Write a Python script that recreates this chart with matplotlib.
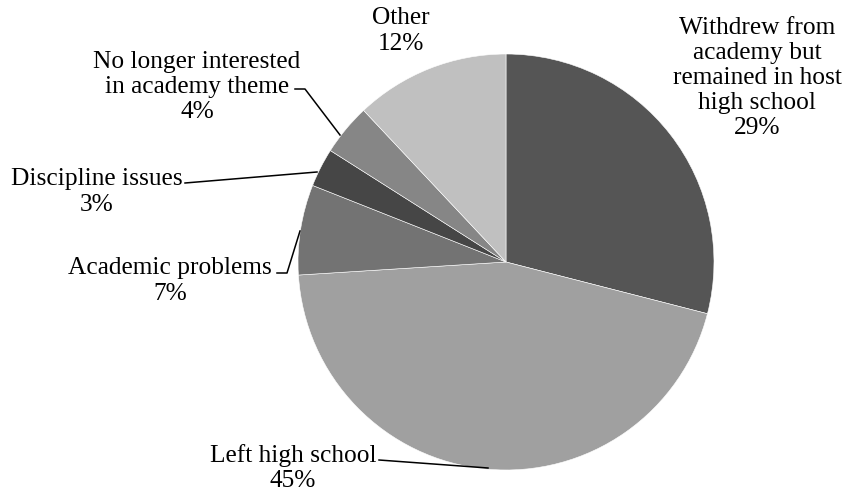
import matplotlib
matplotlib.use("Agg")
import matplotlib.pyplot as plt

categories = ["Withdrew from\nacademy but\nremained in host\nhigh school",
              "Left high school", "Academic problems", "Discipline issues",
              "No longer interested\nin academy theme", "Other"]
values = [29, 45, 7, 3, 4, 12]
colors = ["#555555", "#a0a0a0", "#737373", "#464646", "#868686", "#c0c0c0"]

W, H = 846, 493
fig = plt.figure(figsize=(W / 100, H / 100), dpi=100)
ax = fig.add_axes([0, 0, 1, 1])

cx, cy, r = 506, 262, 208
ax.pie(values, colors=colors, startangle=-90, counterclock=True,
       center=(cx, cy), radius=r, frame=True,
       wedgeprops=dict(edgecolor="white", linewidth=0.4))
ax.set_xlim(0, W)
ax.set_ylim(H, 0)
ax.set_aspect("equal")
ax.axis("off")

font = dict(family="Liberation Serif", fontsize=18.3, color="black",
            ha="center", va="center", linespacing=1.18)
label_pos = [(757, 78), (293, 468), (170, 281), (97, 192), (197, 87), (401, 31)]
for name, v, (x, y) in zip(categories, values, label_pos):
    ax.text(x, y, f"{name}\n{v}%", **font)

leaders = [
    [(295, 89), (305, 89), (340, 135)],
    [(185, 183), (317, 172)],
    [(277, 273), (287, 273), (300, 231)],
    [(379, 460), (488, 468)],
]
for pts in leaders:
    xs, ys = zip(*pts)
    ax.plot(xs, ys, color="black", lw=1.1)

fig.savefig("out.png", dpi=100)
